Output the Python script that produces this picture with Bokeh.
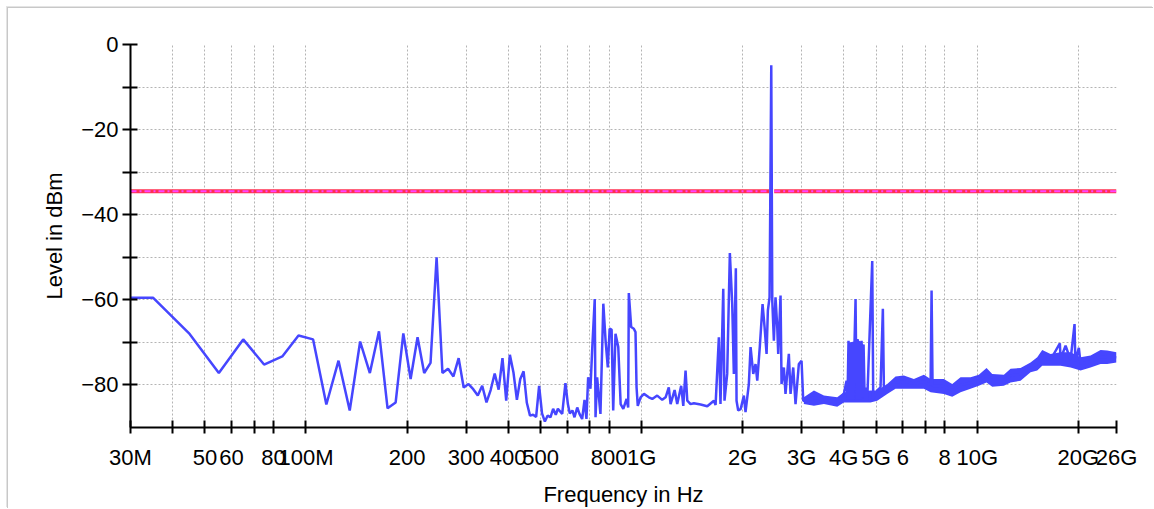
from bokeh.plotting import figure
from bokeh.models import FixedTicker, Range1d
from bokeh.embed import file_html
from bokeh.resources import INLINE

# ---- measured trace (frequency in MHz, level in dBm) ----
freq_mhz = [
    30, 35, 45, 55, 65, 75, 85, 95, 105, 115, 125, 135, 145, 155, 165, 175, 185, 195,
    205, 215, 225, 235, 245, 255, 265, 275, 285, 295, 305, 315, 325, 335, 345, 355,
    365, 375, 385, 395, 405, 415, 425, 435, 445, 455, 465, 475, 485, 495, 505, 515,
    525, 535, 545, 555, 563, 580, 593, 603, 611, 622, 631, 643, 653, 665, 676, 685,
    693, 704, 713, 725, 729, 737, 754, 769, 781, 793, 803, 814, 823, 836, 852, 866,
    882, 902, 912, 916, 931, 948, 959, 966, 974, 993, 1016, 1051, 1076, 1113, 1152,
    1179, 1205, 1220, 1254, 1277, 1312, 1331, 1352, 1368, 1399, 1431, 1499, 1569,
    1642, 1661, 1699, 1718, 1751, 1766, 1799, 1832, 1862, 1883, 1909, 1918, 1940,
    1972, 2017, 2040, 2087, 2112, 2151, 2185, 2211, 2251, 2293, 2325, 2357, 2378,
    2406, 2434, 2451, 2478, 2506, 2536, 2553, 2594, 2612, 2654, 2684, 2746, 2778,
    2830, 2875, 2941, 2996, 3031, 3100, 3262, 3493, 3827, 4005, 4080, 4107, 4135,
    4164, 4193, 4222, 4251, 4281, 4310, 4340, 4369, 4399, 4429, 4460, 4491, 4522,
    4554, 4585, 4620, 4647, 4701, 4866, 4899, 5036, 5151, 5234, 5271, 5393, 5709,
    6045, 6475, 6934, 7261, 7311, 7360, 7953, 8424, 8918, 9553, 10110, 10661, 11084,
    12006, 12571, 13462, 14417, 15094, 15620, 16538, 17628, 17714, 18333, 18972,
    19497, 19600, 20079, 20320, 21763, 23307, 24404, 26000,
]
level_dbm = [
    -59.5, -59.5, -68.0, -77.2, -69.3, -75.2, -73.3, -68.4, -69.3, -84.6, -74.3, -86.0,
    -69.8, -77.2, -67.4, -85.5, -84.1, -67.9, -78.6, -68.8, -77.2, -74.8, -50.0, -77.2,
    -76.2, -78.0, -73.7, -80.6, -79.8, -81.0, -82.5, -80.2, -84.1, -81.2, -77.3, -81.1,
    -73.7, -83.7, -72.9, -77.0, -83.5, -78.6, -76.8, -84.2, -87.2, -87.0, -87.5, -80.2,
    -86.7, -88.6, -87.2, -87.6, -85.6, -87.0, -85.6, -86.8, -79.6, -84.5, -86.7, -86.0,
    -87.6, -85.3, -86.8, -88.0, -83.5, -88.0, -78.2, -80.9, -71.1, -59.8, -87.6, -78.2,
    -86.8, -60.9, -69.6, -75.9, -66.8, -67.0, -86.0, -68.0, -71.1, -84.5, -85.6, -83.3,
    -85.3, -58.4, -66.4, -66.8, -67.6, -80.6, -84.9, -82.9, -82.1, -82.9, -83.3, -82.5,
    -83.5, -82.9, -80.6, -84.5, -81.2, -84.5, -80.2, -84.9, -76.6, -83.7, -84.5, -84.3,
    -84.6, -85.0, -83.7, -84.7, -68.8, -84.5, -57.4, -83.7, -77.4, -49.0, -61.0, -77.4,
    -52.6, -83.7, -86.0, -85.7, -82.5, -86.4, -79.8, -71.1, -77.4, -75.1, -79.0, -70.8,
    -61.0, -66.4, -72.7, -62.5, -59.4, -4.9, -60.2, -69.6, -59.4, -66.4, -72.7, -59.0,
    -79.8, -75.9, -82.1, -72.7, -82.1, -75.9, -84.5, -75.1, -74.3, -83.7, -83.8, -83.0,
    -83.5, -84.0, -82.1, -79.0, -83.5, -69.6, -83.5, -71.0, -83.5, -70.5, -83.5, -69.8,
    -59.8, -83.5, -69.2, -83.5, -69.8, -83.5, -69.6, -83.0, -70.5, -83.7, -80.6, -83.7,
    -50.9, -83.3, -81.3, -80.6, -62.1, -80.6, -81.0, -79.4, -79.2, -79.7, -79.2, -80.0,
    -57.8, -80.2, -80.3, -81.3, -80.0, -79.5, -78.9, -77.7, -78.9, -78.9, -77.8, -77.5,
    -75.9, -75.0, -73.6, -74.1, -70.2, -73.9, -70.8, -74.1, -65.7, -74.5, -71.3, -75.0,
    -74.5, -73.4, -73.5, -73.5,
]

# ---- dense noise-floor band above 3 GHz (lower / upper envelope, dBm) ----
band_mhz = [3043, 3262, 3493, 3827, 4005, 4809, 5036, 5393, 5709, 6045, 6475, 6934,
            7261, 7953, 8424, 8918, 9553, 10110, 10661, 11084, 12006, 12571, 13462,
            14417, 15094, 15620, 16538, 17714, 18972, 20320, 21763, 23307, 24404, 26000]
band_lo = [-84.5, -84.9, -84.5, -85.1, -84.1, -84.1, -83.7, -82.1, -80.9, -80.9, -80.9,
           -80.9, -81.7, -82.1, -82.8, -81.7, -80.9, -80.2, -79.4, -80.4, -80.2, -79.4,
           -79.0, -77.0, -76.6, -75.5, -75.5, -75.5, -75.9, -76.6, -75.9, -75.1, -75.1, -74.7]
band_hi = [-82.9, -81.3, -82.5, -82.9, -81.7, -81.3, -81.3, -79.8, -78.0, -77.8, -78.6,
           -77.6, -78.6, -78.6, -79.8, -78.2, -78.2, -77.6, -76.0, -77.4, -77.6, -76.2,
           -76.0, -74.7, -73.5, -71.8, -72.7, -72.3, -72.3, -73.5, -73.1, -71.8, -71.9, -72.3]

# ---- dense emission cluster 4.1-4.6 GHz (lower / upper envelope, dBm) ----
cluster_mhz = [4120, 4150, 4300, 4420, 4580]
cluster_lo = [-83.5, -83.5, -83.5, -83.5, -83.0]
cluster_hi = [-78.5, -70.0, -69.8, -69.4, -70.5]

# ---- limit line ----
limit_dbm = -34.5
limit_start_mhz = [30, 2483.5]
limit_stop_mhz = [2400, 26000]

# ---- axes ----
x_major_mhz = [30, 50, 60, 80, 100, 200, 300, 400, 500, 800, 1000, 2000, 3000, 4000,
               5000, 6000, 8000, 10000, 20000, 26000]
x_major_labels = ["30M", "50", "60", "80", "100M", "200", "300", "400", "500", "800",
                  "1G", "2G", "3G", "4G", "5G", "6", "8", "10G", "20G", "26G"]
x_minor_mhz = [40, 70, 600, 700, 7000]
y_major = [0, -20, -40, -60, -80]
y_minor = [-10, -30, -50, -70]
x_title = "Frequency in Hz"
y_title = "Level in dBm"

MHZ = 1_000_000
FONT = "Liberation Sans"
TRACE = "#4646ff"

p = figure(width=1146, height=501, x_axis_type="log",
           x_range=Range1d(30 * MHZ, 26000 * MHZ), y_range=Range1d(-90, 0),
           output_backend="svg", toolbar_location=None,
           min_border_left=122, min_border_right=38, min_border_top=36,
           min_border_bottom=82)
p.outline_line_color = None
p.background_fill_color = "white"
p.border_fill_color = "white"
p.styles = {"position": "relative", "left": "8px", "top": "8px",
            "box-shadow": "-1px -1px 0 #c8c8c8, -2px -2px 0 #e4e4e4"}

xt = [int(f * MHZ) for f in x_major_mhz]
p.xaxis.ticker = FixedTicker(ticks=xt, minor_ticks=[int(f * MHZ) for f in x_minor_mhz])
p.xaxis.major_label_overrides = {t: lab for t, lab in zip(xt, x_major_labels)}
p.yaxis.ticker = FixedTicker(ticks=y_major, minor_ticks=y_minor)

for ax in (p.xaxis, p.yaxis):
    ax.axis_line_width = 2
    ax.axis_line_color = "black"
    ax.major_tick_line_width = 2
    ax.minor_tick_line_width = 2
    ax.major_tick_line_color = "black"
    ax.minor_tick_line_color = "black"
    ax.major_label_text_font = FONT
    ax.major_label_text_font_size = "22px"
    ax.major_label_text_color = "black"
    ax.axis_label_text_font = FONT
    ax.axis_label_text_font_size = "22px"
    ax.axis_label_text_font_style = "normal"
    ax.axis_label_text_color = "black"

p.xaxis.major_tick_in = 7
p.xaxis.major_tick_out = 6
p.xaxis.minor_tick_in = 7
p.xaxis.minor_tick_out = 6
p.xaxis.major_label_standoff = 11
p.xaxis.axis_label = x_title
p.xaxis.axis_label_standoff = 9

p.yaxis.major_tick_in = 7
p.yaxis.major_tick_out = 8
p.yaxis.minor_tick_in = 7
p.yaxis.minor_tick_out = 8
p.yaxis.major_label_standoff = 4
p.yaxis.axis_label = y_title
p.yaxis.axis_label_standoff = 11

for g in (p.xgrid, p.ygrid):
    g.grid_line_color = "#b4b4b4"
    g.grid_line_dash = "2 2"
    g.grid_line_width = 1
    g.minor_grid_line_color = "#b4b4b4"
    g.minor_grid_line_dash = "2 2"
    g.minor_grid_line_width = 1

# limit line (red core with magenta dash-dot overlay)
for a, b in zip(limit_start_mhz, limit_stop_mhz):
    p.line([a * MHZ, b * MHZ], [limit_dbm, limit_dbm], line_color="#ff3050", line_width=4)
    p.line([a * MHZ, b * MHZ], [limit_dbm, limit_dbm], line_color="#ff44ff", line_width=2,
           line_dash="6 3 2 3")

# noise floor band, emission cluster and trace
p.varea(x=[f * MHZ for f in band_mhz], y1=band_lo, y2=band_hi, fill_color=TRACE)
p.varea(x=[f * MHZ for f in cluster_mhz], y1=cluster_lo, y2=cluster_hi, fill_color=TRACE)
p.line([f * MHZ for f in freq_mhz], level_dbm, line_color=TRACE, line_width=2.5,
       line_join="bevel")

open("out.html", "w").write(file_html(p, INLINE))
